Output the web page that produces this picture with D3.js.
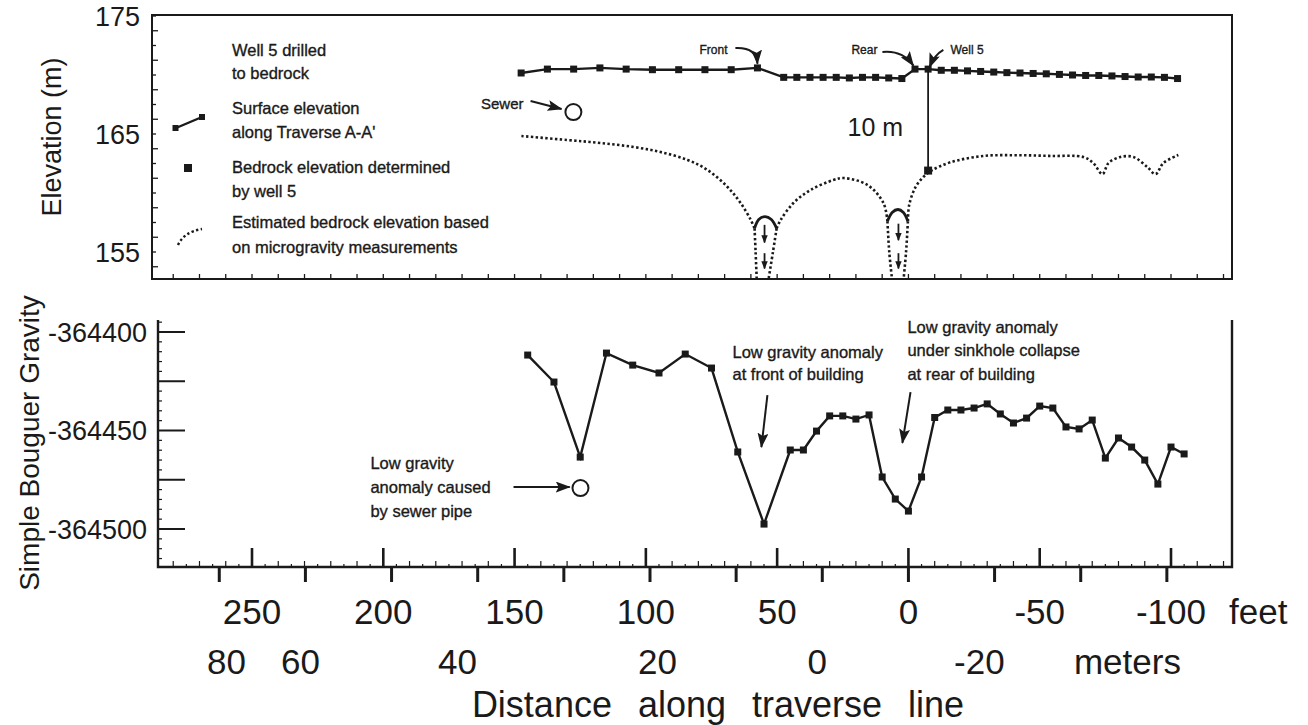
<!DOCTYPE html>
<html>
<head>
<meta charset="utf-8">
<script src="https://cdn.jsdelivr.net/npm/d3@7"></script>
<style>
  body { margin: 0; background: #fff; }
  text { font-family: "Liberation Sans", Arial, sans-serif; fill: #1a1a1a; }
  .scan { stroke: #1a1a1a; stroke-width: 0.35px; }
</style>
</head>
<body>
<div id="chart"></div>
<script>
// ---- data (distance in feet along traverse) ----
const surfaceFt = [147.5,137.5,127.5,117.5,107.5,97.5,87.5,77.5,67.5,57.5,
  47.5,42.5,37.5,32.5,27.5,22.5,17.5,12.5,7.5,2.5,
  -2.5,-7.5,-12.5,-17.5,-22.5,-27.5,-32.5,-37.5,-42.5,-47.5,-52.5,-57.5,-62.5,-67.5,-72.5,-77.5,-82.5,-87.5,-92.5,-97.5,-102.5];
const surfaceElev = [170.17,170.5,170.5,170.6,170.5,170.45,170.45,170.45,170.45,170.6,
  169.8,169.8,169.8,169.8,169.8,169.75,169.8,169.8,169.75,169.7,
  170.5,170.5,170.4,170.4,170.35,170.3,170.25,170.2,170.17,170.13,170.1,170.05,170.0,169.96,169.96,169.92,169.87,169.83,169.83,169.8,169.7];

const wellFt = -7.5;
const wellTop = 170.5;
const wellBedrock = 161.9;

// estimated bedrock (microgravity), [feet, elevation m]
const bedrockA = [[147.4,164.83],[129.9,164.49],[117.3,164.24],[104.7,163.9],[94.4,163.47],[84.1,162.8],[76.5,161.95],[68.9,160.51],[63.9,159.15],[60.0,157.7],[58.6,157.0]];
const bedrockB = [[50.2,157.0],[48.7,157.7],[43.8,159.15],[37.3,160.25],[28.6,161.1],[24.8,161.27],[15.6,160.68],[9.5,159.15],[8.0,157.6]];
const bedrockC = [[0.2,157.6],[-0.3,159.0],[-2.7,160.5],[-5.7,161.36],[-8.8,161.9],[-16,162.6],[-28.6,163.14],[-41.5,163.2],[-54.1,163.14],[-66.6,163.05],[-70.4,162.54],[-73.9,161.6],[-76.2,162.54],[-80.7,163.05],[-85.7,163.05],[-91.0,162.2],[-94.1,161.6],[-97.1,162.54],[-102.8,163.22]];
const cap1 = [[58.6,157.0],[57.0,157.75],[54.6,158.0],[52.2,157.75],[50.2,157.0]];
const cap2 = [[8.0,157.6],[6.2,158.35],[4.0,158.6],[1.9,158.35],[0.2,157.6]];
const legs = [
  [[58.6,157.0],[58.2,155.0],[57.8,152.8]],
  [[50.2,157.0],[51.6,155.0],[53.2,152.8]],
  [[8.0,157.6],[7.3,155.0],[6.3,152.8]],
  [[0.2,157.6],[0.9,155.0],[1.8,152.8]]
];
const capArrows = [[54.8,157.3,155.8],[54.8,154.9,153.6],[3.8,157.4,156.0],[3.8,154.9,153.6]];

// simple bouguer gravity
const gravFt = [145,135,125,115,105,95,85,75,65,55,
  45,40,35,30,25,20,15,10,5,0,-5,-10,-15,-20,-25,-30,-35,-40,-45,-50,-55,-60,-65,-70,-75,-80,-85,-90,-95,-100,-105];
const gravVal = [-364411.7,-364425.4,-364463.5,-364410.7,-364416.8,-364420.8,-364411.2,-364418.3,-364460.9,-364497.5,
  -364459.9,-364459.9,-364450.3,-364442.6,-364442.6,-364444.2,-364442.1,-364473.6,-364484.8,-364490.9,
  -364473.6,-364443.4,-364439.6,-364439.6,-364438.6,-364436.5,-364441.6,-364446.2,-364443.7,-364437.6,
  -364438.6,-364448.2,-364449.2,-364444.7,-364464.0,-364453.8,-364458.4,-364465.0,-364477.2,-364458.4,-364461.9];
const sewerTop = [127.6,166.86];
const sewerGrav = [124.9,-364479.2];

// axis labels
const elevLabels = [155,165,175];
const gravLabels = [-364400,-364450,-364500];
const feetLabels = [250,200,150,100,50,0,-50,-100];
const meterLabels = ["80","60","40","20","0","-20"];
const meterLabelFt = [259.7,231.5,171.7,95.6,34.7,-27.0];

// ---- layout ----
const W = 1308, H = 725;
const svg = d3.select("#chart").append("svg").attr("width", W).attr("height", H);
const ink = "#1a1a1a";

const x = d3.scaleLinear().domain([250,-100]).range([252,1171]);
const yE = d3.scaleLinear().domain([155,175]).range([252,16]);
const yG = d3.scaleLinear().domain([-364500,-364400]).range([529,332]);

const topBox = { left: 152, right: 1232, top: 15, bottom: 279 };
const botBox = { left: 158, right: 1232, top: 320, bottom: 567 };

// defs: arrowheads
const defs = svg.append("defs");
defs.append("marker").attr("id","head").attr("viewBox","0 0 15 11")
  .attr("refX",14).attr("refY",5.5).attr("markerWidth",15).attr("markerHeight",11)
  .attr("markerUnits","userSpaceOnUse").attr("orient","auto")
  .append("path").attr("d","M0,0 L15,5.5 L0,11 L3,5.5 z").attr("fill",ink);
defs.append("marker").attr("id","headS").attr("viewBox","0 0 10 8")
  .attr("refX",9).attr("refY",4).attr("markerWidth",8).attr("markerHeight",7)
  .attr("markerUnits","userSpaceOnUse").attr("orient","auto")
  .append("path").attr("d","M0,0 L10,4 L0,8 z").attr("fill",ink);

// ================= top panel =================
svg.append("rect")
  .attr("x", topBox.left).attr("y", topBox.top)
  .attr("width", topBox.right - topBox.left).attr("height", topBox.bottom - topBox.top)
  .attr("fill","none").attr("stroke",ink).attr("stroke-width",2);

// left ticks (inward)
const eTicks = d3.range(0, 18).map(i => 153.75 + i * 1.25).filter(v => v <= 175);
svg.append("g").selectAll("line").data(eTicks).join("line")
  .attr("x1", topBox.left).attr("x2", (d, i) => topBox.left + (i % 2 ? 4 : 6))
  .attr("y1", d => yE(d)).attr("y2", d => yE(d))
  .attr("stroke", ink).attr("stroke-width", 1.3);

// bottom ticks (inward)
const fTicksTop = d3.range(280, -121, -10);
svg.append("g").selectAll("line").data(fTicksTop).join("line")
  .attr("x1", d => x(d)).attr("x2", d => x(d))
  .attr("y1", topBox.bottom).attr("y2", topBox.bottom - 5)
  .attr("stroke", ink).attr("stroke-width", 1.3);

// elevation labels
svg.append("g").selectAll("text").data(elevLabels).join("text")
  .attr("x", 140).attr("y", d => yE(d)).attr("dy","0.36em")
  .attr("text-anchor","end").style("font-size","27px").text(d => d);

svg.append("text")
  .attr("transform", `translate(61,137) rotate(-90)`)
  .attr("text-anchor","middle").style("font-size","27px").text("Elevation (m)");

// estimated bedrock dotted curves
const bedLine = d3.line().x(d => x(d[0])).y(d => yE(d[1])).curve(d3.curveCatmullRom);
[bedrockA, bedrockB, bedrockC, ...legs].forEach(seg => {
  svg.append("path").attr("d", bedLine(seg))
    .attr("fill","none").attr("stroke",ink).attr("stroke-width",2.6)
    .attr("stroke-dasharray","2.4,2.4");
});
[cap1, cap2].forEach(seg => {
  svg.append("path").attr("d", bedLine(seg))
    .attr("fill","none").attr("stroke",ink).attr("stroke-width",2.8);
});
svg.append("g").selectAll("line").data(capArrows).join("line")
  .attr("x1", d => x(d[0])).attr("x2", d => x(d[0]))
  .attr("y1", d => yE(d[1])).attr("y2", d => yE(d[2]))
  .attr("stroke", ink).attr("stroke-width", 1.8).attr("marker-end","url(#headS)");

// well 5
svg.append("line")
  .attr("x1", x(wellFt)).attr("x2", x(wellFt))
  .attr("y1", yE(wellTop)).attr("y2", yE(wellBedrock))
  .attr("stroke", ink).attr("stroke-width", 1.8);
svg.append("rect")
  .attr("x", x(wellFt) - 4).attr("y", yE(wellBedrock) - 4)
  .attr("width", 8).attr("height", 8).attr("fill", ink);

// surface elevation
const surf = surfaceFt.map((f, i) => [f, surfaceElev[i]]);
svg.append("path")
  .attr("d", d3.line().x(d => x(d[0])).y(d => yE(d[1]))(surf))
  .attr("fill","none").attr("stroke",ink).attr("stroke-width",2.4);
svg.append("g").selectAll("rect").data(surf).join("rect")
  .attr("x", d => x(d[0]) - 3.5).attr("y", d => yE(d[1]) - 3.5)
  .attr("width", 7).attr("height", 7).attr("fill", ink);

// sewer (top)
svg.append("circle").attr("cx", x(sewerTop[0])).attr("cy", yE(sewerTop[1])).attr("r", 8)
  .attr("fill","none").attr("stroke",ink).attr("stroke-width",2);
svg.append("text").attr("class","scan").attr("x", x(146.6)).attr("y", yE(167.54)).attr("dy","0.35em")
  .attr("text-anchor","end").style("font-size","15px").text("Sewer");
svg.append("line")
  .attr("x1", x(143.9)).attr("y1", yE(167.8)).attr("x2", x(132.1)).attr("y2", yE(167.12))
  .attr("stroke", ink).attr("stroke-width", 2).attr("marker-end","url(#head)");

// front / rear / well 5 callouts
const qPath = (a, c, b) => `M${x(a[0])},${yE(a[1])} Q${x(c[0])},${yE(c[1])} ${x(b[0])},${yE(b[1])}`;
[[[65.9,172.29],[57.9,172.37],[57.5,170.95]],
 [[9.9,171.95],[2.3,172.12],[-1.9,170.8]],
 [[-13.3,172.12],[-9.9,171.7],[-8.0,170.65]]].forEach(p => {
  svg.append("path").attr("d", qPath(p[0], p[1], p[2]))
    .attr("fill","none").attr("stroke",ink).attr("stroke-width",2)
    .attr("marker-end","url(#head)");
});
svg.append("text").attr("class","scan").attr("x", x(68.9)).attr("y", yE(172.12)).attr("dy","0.35em")
  .attr("text-anchor","end").style("font-size","12px").text("Front");
svg.append("text").attr("class","scan").attr("x", x(11.8)).attr("y", yE(172.12)).attr("dy","0.35em")
  .attr("text-anchor","end").style("font-size","12px").text("Rear");
svg.append("text").attr("class","scan").attr("x", x(-16.0)).attr("y", yE(172.12)).attr("dy","0.35em")
  .attr("text-anchor","start").style("font-size","12px").text("Well 5");

svg.append("text").attr("x", x(12.6)).attr("y", yE(165.6)).attr("dy","0.35em")
  .attr("text-anchor","middle").style("font-size","25px").text("10 m");

// legend
const lg = svg.append("g");
const legendLines = [
  ["Well 5 drilled", 50], ["to bedrock", 73],
  ["Surface elevation", 108], ["along Traverse A-A'", 132],
  ["Bedrock elevation determined", 167], ["by well 5", 191],
  ["Estimated bedrock elevation based", 222], ["on microgravity measurements", 247]
];
lg.selectAll("text").data(legendLines).join("text").attr("class","scan")
  .attr("x", 232).attr("y", d => d[1]).attr("dy","0.35em")
  .style("font-size","16.5px").text(d => d[0]);
lg.append("line").attr("x1",176).attr("y1",128).attr("x2",202).attr("y2",117)
  .attr("stroke",ink).attr("stroke-width",2.4);
lg.append("rect").attr("x",172.5).attr("y",125).attr("width",6).attr("height",6).attr("fill",ink);
lg.append("rect").attr("x",199).attr("y",114).attr("width",6).attr("height",6).attr("fill",ink);
lg.append("rect").attr("x",184).attr("y",164).attr("width",8).attr("height",8).attr("fill",ink);
lg.append("path").attr("d","M178,245 Q184,232 202,229")
  .attr("fill","none").attr("stroke",ink).attr("stroke-width",2.4).attr("stroke-dasharray","2.4,2.4");

// ================= bottom panel =================
svg.append("path")
  .attr("d", `M${botBox.left},${botBox.top} V${botBox.bottom} H${botBox.right} V${botBox.top}`)
  .attr("fill","none").attr("stroke",ink).attr("stroke-width",2.4);

// left ticks
const gMinor = d3.range(-364515, -364394, 5);
svg.append("g").selectAll("line").data(gMinor).join("line")
  .attr("x1", botBox.left).attr("x2", d => botBox.left + ((d + 364500) % 25 === 0 ? 27 : 4))
  .attr("y1", d => yG(d)).attr("y2", d => yG(d))
  .attr("stroke", ink).attr("stroke-width", d => (d + 364500) % 25 === 0 ? 2 : 1.2);

svg.append("g").selectAll("text").data(gravLabels).join("text")
  .attr("x", 147).attr("y", d => yG(d)).attr("dy","0.36em")
  .attr("text-anchor","end").style("font-size","27px").text(d => d);

svg.append("text")
  .attr("transform", `translate(39,443) rotate(-90)`)
  .attr("text-anchor","middle").style("font-size","28px").text("Simple Bouguer Gravity");

// bottom axis ticks: feet upward
const fTicks = d3.range(280, -121, -5);
svg.append("g").selectAll("line").data(fTicks).join("line")
  .attr("x1", d => x(d)).attr("x2", d => x(d))
  .attr("y1", botBox.bottom)
  .attr("y2", d => botBox.bottom - (d % 50 === 0 ? 19 : d % 10 === 0 ? 6 : 3))
  .attr("stroke", ink).attr("stroke-width", d => d % 50 === 0 ? 2.6 : 1.2);

// meter ticks downward, every 10 m
const mTicks = d3.range(-30, 81, 10);
svg.append("g").selectAll("line").data(mTicks).join("line")
  .attr("x1", d => x(d * 3.2808)).attr("x2", d => x(d * 3.2808))
  .attr("y1", botBox.bottom).attr("y2", botBox.bottom + 15)
  .attr("stroke", ink).attr("stroke-width", 3);

// gravity line
const grav = gravFt.map((f, i) => [f, gravVal[i]]);
svg.append("path")
  .attr("d", d3.line().x(d => x(d[0])).y(d => yG(d[1]))(grav))
  .attr("fill","none").attr("stroke",ink).attr("stroke-width",2.4);
svg.append("g").selectAll("rect").data(grav).join("rect")
  .attr("x", d => x(d[0]) - 3.5).attr("y", d => yG(d[1]) - 3.5)
  .attr("width", 7).attr("height", 7).attr("fill", ink);

svg.append("circle").attr("cx", x(sewerGrav[0])).attr("cy", yG(sewerGrav[1])).attr("r", 8)
  .attr("fill","none").attr("stroke",ink).attr("stroke-width",2);

// annotations
const notes = [
  { ft: 204.9, lines: [["Low gravity", -364466.5], ["anomaly caused", -364478.7], ["by sewer pipe", -364490.9]],
    arrow: [[150.4,-364478.7],[129.0,-364478.7]] },
  { ft: 67.0, lines: [["Low gravity anomaly", -364410.2], ["at front of building", -364421.3]],
    arrow: [[53.7,-364432.0],[56.0,-364458.4]] },
  { ft: 0.4, lines: [["Low gravity anomaly", -364397.5], ["under sinkhole collapse", -364409.1], ["at rear of building", -364421.3]],
    arrow: [[-0.8,-364430.5],[2.3,-364456.3]] }
];
notes.forEach(n => {
  n.lines.forEach(l => {
    svg.append("text").attr("class","scan").attr("x", x(n.ft)).attr("y", yG(l[1])).attr("dy","0.35em")
      .style("font-size","16.5px").text(l[0]);
  });
  svg.append("line")
    .attr("x1", x(n.arrow[0][0])).attr("y1", yG(n.arrow[0][1]))
    .attr("x2", x(n.arrow[1][0])).attr("y2", yG(n.arrow[1][1]))
    .attr("stroke", ink).attr("stroke-width", 2).attr("marker-end","url(#head)");
});

// distance labels
svg.append("g").selectAll("text").data(feetLabels).join("text")
  .attr("x", d => x(d)).attr("y", 611).attr("dy","0.36em")
  .attr("text-anchor","middle").style("font-size","35px").text(d => d);
svg.append("text").attr("x", x(-100) + 58).attr("y", 611).attr("dy","0.36em")
  .style("font-size","35px").text("feet");

svg.append("g").selectAll("text").data(meterLabels).join("text")
  .attr("x", (d, i) => x(meterLabelFt[i])).attr("y", 661).attr("dy","0.36em")
  .attr("text-anchor","middle").style("font-size","35px").text(d => d);
svg.append("text").attr("x", x(-83.4)).attr("y", 661).attr("dy","0.36em")
  .attr("text-anchor","middle").style("font-size","35px").text("meters");

svg.append("text").attr("x", 718).attr("y", 717)
  .attr("text-anchor","middle").style("font-size","36px").style("word-spacing","16px")
  .text("Distance along traverse line");
</script>
</body>
</html>
